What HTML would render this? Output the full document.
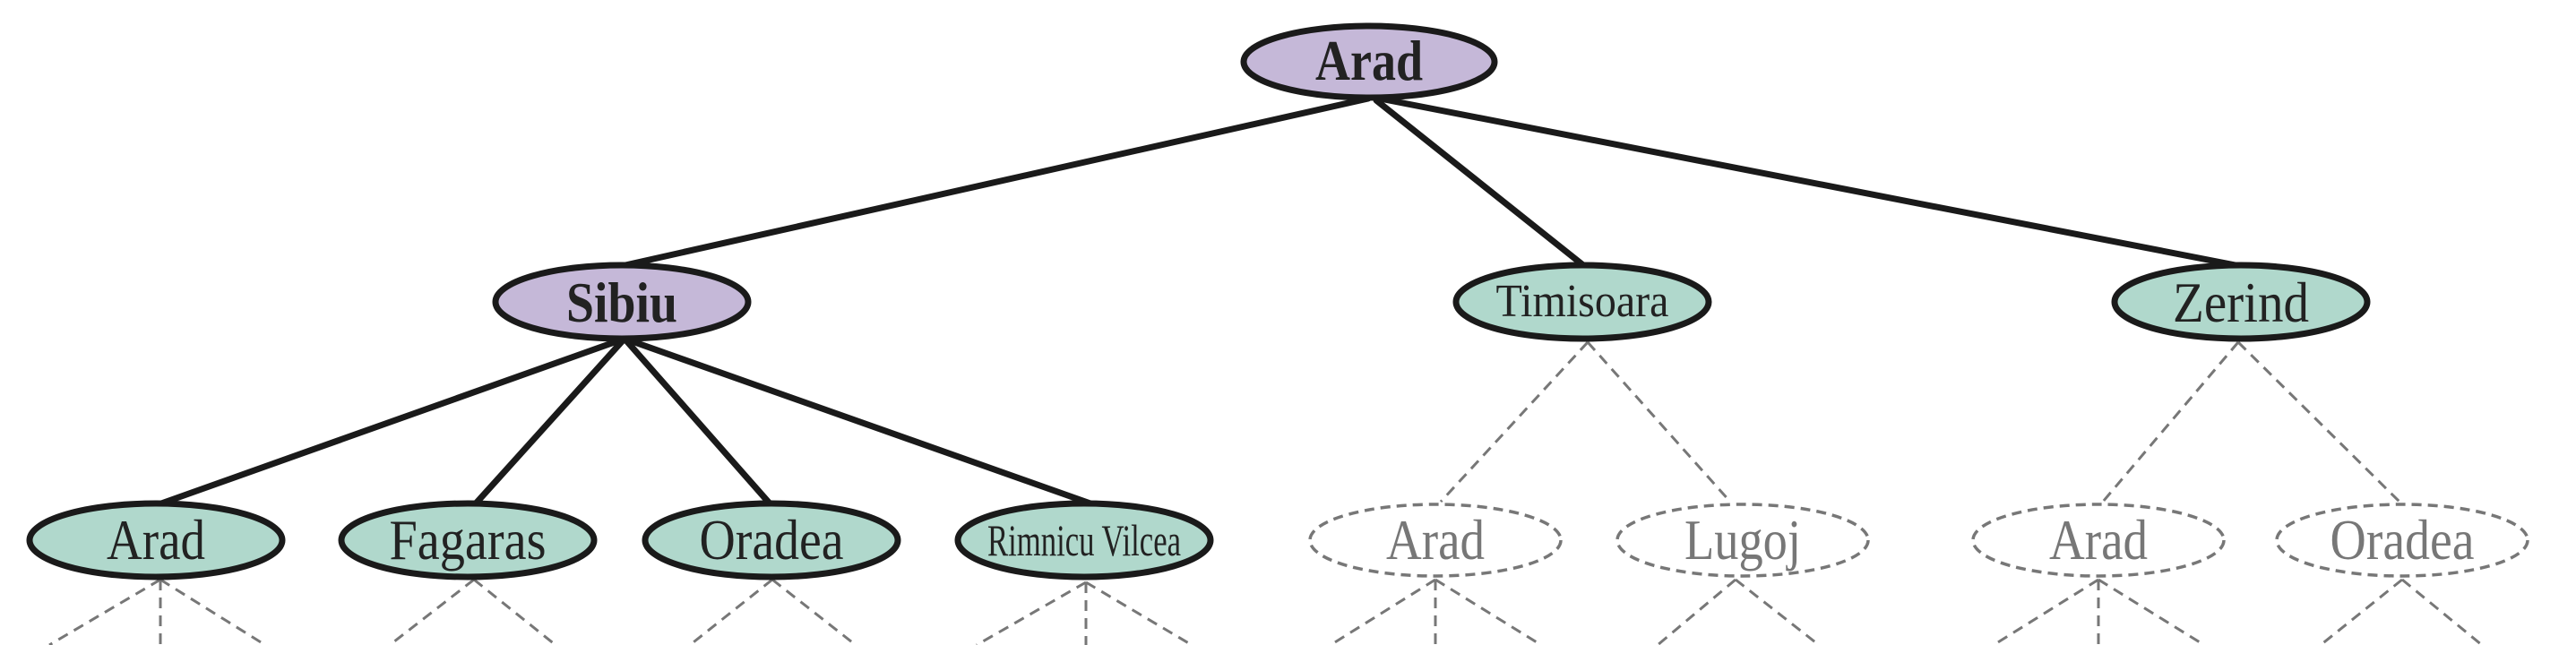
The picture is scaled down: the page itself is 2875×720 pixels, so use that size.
<!DOCTYPE html>
<html><head><meta charset="utf-8"><style>html,body{margin:0;padding:0;background:#fff}svg{display:block}</style></head>
<body>
<svg width="2875" height="720" viewBox="0 0 2875 720" xmlns="http://www.w3.org/2000/svg" font-family="'Liberation Serif', serif">
<g stroke="#1a1a1a" stroke-width="7" fill="none" stroke-linecap="round">
<line x1="1527" y1="110" x2="698" y2="296"/>
<line x1="1536" y1="112" x2="1767" y2="296"/>
<line x1="1540" y1="110" x2="2495" y2="296"/>
<line x1="697" y1="378" x2="180" y2="562"/>
<line x1="697" y1="378" x2="531" y2="562"/>
<line x1="697" y1="378" x2="859" y2="562"/>
<line x1="697" y1="378" x2="1217" y2="562"/>
</g>
<g stroke="#777" stroke-width="3" fill="none" stroke-dasharray="12 8">
<line x1="1772" y1="382" x2="1608" y2="560"/>
<line x1="1772" y1="382" x2="1931" y2="560"/>
<line x1="2498" y1="382" x2="2347" y2="560"/>
<line x1="2498" y1="382" x2="2678" y2="560"/>
<path d="M179 647 L55 720 M179 647 L179 720 M179 647 L296 720"/>
<path d="M529 647 L435 720 M529 647 L620 720"/>
<path d="M862 647 L770 720 M862 647 L955 720"/>
<path d="M1212 650 L1090 720 M1212 650 L1212 720 M1212 650 L1330 720"/>
<path d="M1602 647 L1485 720 M1602 647 L1602 720 M1602 647 L1720 720"/>
<path d="M1937 647 L1850 720 M1937 647 L2030 720"/>
<path d="M2342 647 L2225 720 M2342 647 L2342 720 M2342 647 L2460 720"/>
<path d="M2681 647 L2590 720 M2681 647 L2770 720"/>
</g>
<g stroke="#1a1a1a" stroke-width="7">
<ellipse cx="1528" cy="69" rx="140" ry="40" fill="#c5b8d8"/>
<ellipse cx="694" cy="337" rx="141" ry="41" fill="#c5b8d8"/>
<ellipse cx="1766" cy="337" rx="141" ry="41" fill="#b0d8cc"/>
<ellipse cx="2501" cy="337" rx="141" ry="41" fill="#b0d8cc"/>
<ellipse cx="174" cy="603" rx="141" ry="41" fill="#b0d8cc"/>
<ellipse cx="522" cy="603" rx="141" ry="41" fill="#b0d8cc"/>
<ellipse cx="861" cy="603" rx="141" ry="41" fill="#b0d8cc"/>
<ellipse cx="1210" cy="603" rx="141" ry="41" fill="#b0d8cc"/>
</g>
<g stroke="#777" stroke-width="3.5" fill="none" stroke-dasharray="11 7">
<ellipse cx="1602" cy="603" rx="140" ry="40"/>
<ellipse cx="1945" cy="603" rx="140" ry="40"/>
<ellipse cx="2342" cy="603" rx="140" ry="40"/>
<ellipse cx="2681" cy="603" rx="140" ry="40"/>
</g>
<g fill="#222" text-anchor="middle" font-size="64">
<text x="1528" y="89" font-weight="bold" textLength="120" lengthAdjust="spacingAndGlyphs">Arad</text>
<text x="694" y="359" font-weight="bold" textLength="124" lengthAdjust="spacingAndGlyphs">Sibiu</text>
<text x="1766" y="353" font-size="52" textLength="193" lengthAdjust="spacingAndGlyphs">Timisoara</text>
<text x="2501" y="359" textLength="152" lengthAdjust="spacingAndGlyphs">Zerind</text>
<text x="174" y="624" textLength="110" lengthAdjust="spacingAndGlyphs">Arad</text>
<text x="522" y="624" textLength="175" lengthAdjust="spacingAndGlyphs">Fagaras</text>
<text x="861" y="624" textLength="161" lengthAdjust="spacingAndGlyphs">Oradea</text>
<text x="1210" y="620" font-size="50" textLength="216" lengthAdjust="spacingAndGlyphs">Rimnicu Vilcea</text>
</g>
<g fill="#777" text-anchor="middle" font-size="64">
<text x="1602" y="624" textLength="110" lengthAdjust="spacingAndGlyphs">Arad</text>
<text x="1945" y="624" textLength="130" lengthAdjust="spacingAndGlyphs">Lugoj</text>
<text x="2342" y="624" textLength="110" lengthAdjust="spacingAndGlyphs">Arad</text>
<text x="2681" y="624" textLength="161" lengthAdjust="spacingAndGlyphs">Oradea</text>
</g>
</svg>
</body></html>
